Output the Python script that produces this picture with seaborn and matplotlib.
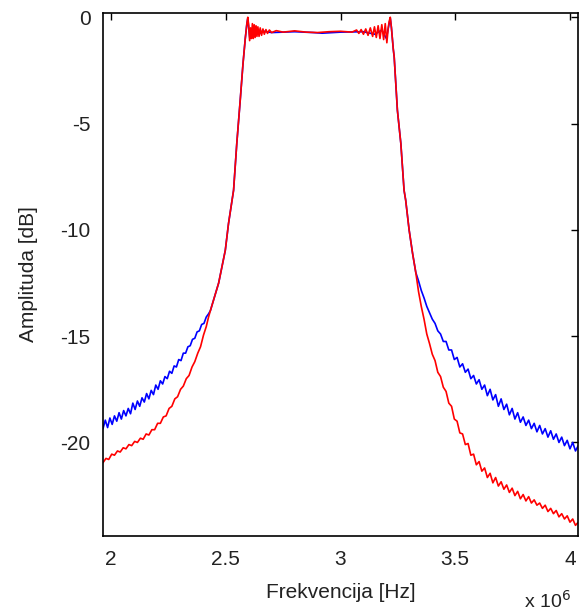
import matplotlib
matplotlib.use("Agg")
import matplotlib.pyplot as plt
import seaborn as sns
import pandas as pd

# ---- data (frequency in MHz, amplitude in dB) ----
blue_left_f = [1.965, 1.975, 1.985, 1.995, 2.005, 2.015, 2.025, 2.035, 2.045, 2.055,
               2.065, 2.075, 2.085, 2.095, 2.105, 2.115, 2.125, 2.135, 2.145, 2.155,
               2.165, 2.175, 2.185, 2.195, 2.205, 2.215, 2.225, 2.235, 2.245, 2.255,
               2.265, 2.275, 2.285, 2.295, 2.305, 2.315, 2.325, 2.335, 2.345, 2.355,
               2.365, 2.375, 2.385, 2.395, 2.405, 2.415, 2.425]
blue_left_a = [-19.35, -18.95, -19.3, -18.85, -19.15, -18.75, -19.0, -18.6, -18.9, -18.5,
               -18.75, -18.4, -18.65, -18.15, -18.45, -18.05, -18.3, -17.9, -18.1, -17.7,
               -17.95, -17.55, -17.75, -17.3, -17.5, -17.1, -17.25, -16.9, -17.0, -16.65,
               -16.75, -16.4, -16.45, -16.1, -16.15, -15.8, -15.8, -15.5, -15.45, -15.15,
               -15.1, -14.8, -14.75, -14.45, -14.4, -14.1, -13.95]

red_left_f = [1.965, 1.978, 1.99, 2.003, 2.015, 2.028, 2.04, 2.053, 2.065, 2.078,
              2.09, 2.103, 2.115, 2.128, 2.14, 2.153, 2.165, 2.178, 2.19, 2.203,
              2.215, 2.228, 2.24, 2.253, 2.265, 2.278, 2.29, 2.303, 2.315, 2.328,
              2.34, 2.353, 2.365, 2.378, 2.39, 2.403, 2.415, 2.425]
red_left_a = [-20.95, -20.75, -20.8, -20.55, -20.6, -20.4, -20.45, -20.25, -20.3, -20.1,
              -20.15, -19.95, -20.0, -19.8, -19.85, -19.6, -19.65, -19.4, -19.4, -19.1,
              -19.1, -18.8, -18.75, -18.4, -18.3, -17.95, -17.85, -17.5, -17.35, -17.0,
              -16.85, -16.45, -16.2, -15.8, -15.5, -14.95, -14.55, -14.1]

skirt_left_f = [2.433, 2.455, 2.469, 2.498, 2.512, 2.534, 2.548, 2.563, 2.575, 2.585]
skirt_left_a = [-13.8, -13.0, -12.5, -10.96, -9.7, -8.14, -5.94, -3.9, -2.2, -1.0]

blue_pass_f = [2.592, 2.596, 2.600, 2.605, 2.612, 2.620, 2.630, 2.645, 2.660, 2.700,
               2.800, 2.880, 2.920, 3.000, 3.100, 3.150, 3.180, 3.200, 3.212, 3.217, 3.222]
blue_pass_a = [-0.3, -0.05, -0.5, -1.0, -0.6, -0.9, -0.6, -0.8, -0.65, -0.72,
               -0.68, -0.72, -0.75, -0.7, -0.68, -0.8, -0.6, -1.0, -0.3, -0.05, -0.5]

red_pass_f = [2.592, 2.596, 2.600, 2.604, 2.608, 2.612, 2.616, 2.620, 2.624, 2.628,
              2.632, 2.636, 2.640, 2.645, 2.650, 2.656, 2.662, 2.668, 2.675, 2.682,
              2.690, 2.700, 2.720, 2.750, 2.800, 2.850, 2.900, 2.950, 3.000, 3.050,
              3.070, 3.080, 3.090, 3.100, 3.110, 3.120, 3.130, 3.140, 3.148, 3.156,
              3.164, 3.172, 3.180, 3.188, 3.195, 3.202, 3.208, 3.212, 3.217, 3.222]
red_pass_a = [-0.3, 0.0, -0.4, -1.1, -0.5, -1.0, -0.3, -1.0, -0.35, -0.95,
              -0.4, -0.9, -0.45, -0.9, -0.5, -0.85, -0.55, -0.8, -0.58, -0.76,
              -0.6, -0.72, -0.63, -0.7, -0.64, -0.7, -0.72, -0.68, -0.66, -0.7,
              -0.6, -0.76, -0.58, -0.8, -0.55, -0.85, -0.5, -0.9, -0.45, -0.95,
              -0.4, -1.0, -0.35, -1.05, -0.3, -1.2, -0.5, -0.2, 0.0, -0.5]

skirt_right_f = [3.230, 3.234, 3.248, 3.263, 3.277, 3.284, 3.299, 3.314, 3.328]
skirt_right_a = [-1.5, -1.87, -4.38, -5.94, -8.14, -8.6, -10.0, -11.1, -12.0]

blue_right_f = [3.34, 3.352, 3.364, 3.376, 3.388, 3.40, 3.412, 3.424, 3.436, 3.448,
                3.46, 3.472, 3.484, 3.496, 3.508, 3.52, 3.532, 3.544, 3.556, 3.568,
                3.58, 3.592, 3.604, 3.616, 3.628, 3.64, 3.652, 3.664, 3.676, 3.688,
                3.70, 3.712, 3.724, 3.736, 3.748, 3.76, 3.772, 3.784, 3.796, 3.808,
                3.82, 3.832, 3.844, 3.856, 3.868, 3.88, 3.892, 3.904, 3.916, 3.928,
                3.94, 3.952, 3.964, 3.976, 3.988, 4.00, 4.012, 4.024, 4.036]
blue_right_a = [-12.4, -12.85, -13.2, -13.6, -13.9, -14.2, -14.4, -14.75, -14.9, -15.25,
                -15.25, -15.65, -15.65, -16.1, -16.0, -16.45, -16.3, -16.7, -16.55, -17.0,
                -16.85, -17.25, -17.05, -17.5, -17.3, -17.8, -17.5, -18.0, -17.75, -18.3,
                -17.95, -18.45, -18.2, -18.7, -18.4, -18.9, -18.6, -19.05, -18.8, -19.2,
                -18.95, -19.35, -19.1, -19.5, -19.2, -19.6, -19.35, -19.75, -19.45, -19.85,
                -19.6, -20.0, -19.75, -20.15, -19.9, -20.3, -20.0, -20.4, -20.15]

red_right_f = [3.34, 3.352, 3.364, 3.376, 3.388, 3.40, 3.412, 3.424, 3.436, 3.448,
               3.46, 3.472, 3.484, 3.496, 3.508, 3.52, 3.532, 3.544, 3.556, 3.568,
               3.58, 3.592, 3.604, 3.616, 3.628, 3.64, 3.652, 3.664, 3.676, 3.688,
               3.70, 3.712, 3.724, 3.736, 3.748, 3.76, 3.772, 3.784, 3.796, 3.808,
               3.82, 3.832, 3.844, 3.856, 3.868, 3.88, 3.892, 3.904, 3.916, 3.928,
               3.94, 3.952, 3.964, 3.976, 3.988, 4.00, 4.012, 4.024, 4.036]
red_right_a = [-12.9, -13.6, -14.2, -14.9, -15.35, -15.85, -16.15, -16.7, -16.9, -17.4,
               -17.6, -18.15, -18.3, -18.9, -19.0, -19.55, -19.6, -20.1, -20.05, -20.6,
               -20.55, -21.05, -20.9, -21.35, -21.2, -21.65, -21.45, -21.9, -21.65, -22.05,
               -21.85, -22.2, -22.0, -22.35, -22.15, -22.5, -22.3, -22.65, -22.45, -22.75,
               -22.55, -22.85, -22.7, -22.95, -22.85, -23.1, -22.95, -23.25, -23.1, -23.35,
               -23.2, -23.5, -23.35, -23.6, -23.45, -23.75, -23.6, -23.9, -23.75]

x_ticks = [2.0, 2.5, 3.0, 3.5, 4.0]
x_tick_labels = ["2", "2.5", "3", "3.5", "4"]
y_ticks = [0, -5, -10, -15, -20]
y_tick_labels = ["0", "-5", "-10", "-15", "-20"]

# ---- assemble ----
blue_f = blue_left_f + skirt_left_f + blue_pass_f + skirt_right_f + blue_right_f
blue_a = blue_left_a + skirt_left_a + blue_pass_a + skirt_right_a + blue_right_a
red_f = red_left_f + skirt_left_f + red_pass_f + skirt_right_f + red_right_f
red_a = red_left_a + skirt_left_a + red_pass_a + skirt_right_a + red_right_a

df_blue = pd.DataFrame({"f": [v * 1e6 for v in blue_f], "a": blue_a})
df_red = pd.DataFrame({"f": [v * 1e6 for v in red_f], "a": red_a})

sns.set_theme(style="white")
plt.rcParams["font.family"] = ["Liberation Sans", "DejaVu Sans"]
plt.rcParams["axes.unicode_minus"] = False

fig = plt.figure(figsize=(5.82, 6.15), dpi=100)
ax = fig.add_axes([103 / 582, 1 - 536 / 615, (578 - 103) / 582, (536 - 13) / 615])

sns.lineplot(data=df_blue, x="f", y="a", ax=ax, color="#0000ff", lw=1.2,
             estimator=None, sort=False)
sns.lineplot(data=df_red, x="f", y="a", ax=ax, color="#ff0000", lw=1.2,
             estimator=None, sort=False)

ax.set_xlim(1.965e6, 4.035e6)
ax.set_ylim(-24.4, 0.2)
ax.set_xticks([t * 1e6 for t in x_ticks])
ax.set_xticklabels(x_tick_labels)
ax.set_yticks(y_ticks)
ax.set_yticklabels(y_tick_labels)

for s in ax.spines.values():
    s.set_visible(True)
    s.set_color("black")
    s.set_linewidth(1.2)

ax.tick_params(axis="both", direction="in", length=5, width=1, color="black",
               top=True, right=True, labelsize=15, labelcolor="#222222")
ax.tick_params(axis="x", pad=10)
ax.tick_params(axis="y", pad=9)

ax.set_xlabel("Frekvencija [Hz]", fontsize=15, color="#222222", labelpad=10)
ax.set_ylabel("Amplituda [dB]", fontsize=15, color="#222222", labelpad=16)
ax.grid(False)

fig.text(524 / 582, 1 - 601 / 615, "x 10$^6$", fontsize=14, color="#222222",
         ha="left", va="center")

fig.savefig("out.png", dpi=100)
